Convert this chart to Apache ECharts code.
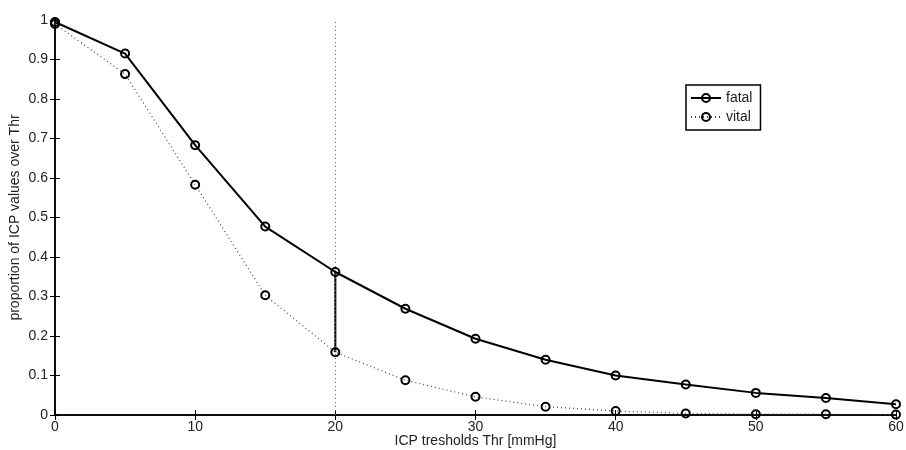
<!DOCTYPE html>
<html>
<head>
<meta charset="utf-8">
<script src="https://cdn.jsdelivr.net/npm/echarts@6/dist/echarts.min.js"></script>
<style>
  html, body { margin: 0; padding: 0; background: #fff; }
  #chart { width: 906px; height: 450px; }
</style>
</head>
<body>
<div id="chart"></div>
<script>
// thresholds (x) and proportions
const thresholds = [0, 5, 10, 15, 20, 25, 30, 35, 40, 45, 50, 55, 60];
const fatal = [0.995, 0.915, 0.683, 0.477, 0.362, 0.269, 0.193, 0.140, 0.100, 0.077, 0.056, 0.043, 0.027];
const vital = [0.990, 0.863, 0.583, 0.303, 0.159, 0.088, 0.046, 0.021, 0.010, 0.004, 0.002, 0.002, 0.001];
const markerX = 20;

function pairs(xs, ys) {
    return xs.map(function (x, i) { return [x, ys[i]]; });
}

let myChart = echarts.init(document.getElementById('chart'));
const font = 'Liberation Sans, Arial, sans-serif';
const idx = thresholds.indexOf(markerX);

// shared axis look (MATLAB style box with inward ticks)
const axisLine = { show: true, lineStyle: { color: '#000', width: 1.5 } };
const axisTick = { show: true, inside: true, length: 5, lineStyle: { color: '#000' } };
const labelStyle = { fontFamily: font, fontSize: 14, color: '#222' };

let option = {
    animation: false,
    backgroundColor: '#fff',
    grid: { left: 55, right: 10, top: 20, bottom: 35, outerBoundsMode: 'none' },
    legend: {
        left: 686, top: 85,
        orient: 'vertical',
        backgroundColor: '#fff',
        borderColor: '#000', borderWidth: 1.5, borderRadius: 0,
        padding: [6, 8, 6, 4],
        itemGap: 5, itemWidth: 30, itemHeight: 10,
        textStyle: labelStyle,
        data: ['fatal', 'vital']
    },
    xAxis: [{
        type: 'value', min: 0, max: 60, interval: 10,
        name: 'ICP tresholds Thr [mmHg]', nameLocation: 'middle', nameGap: 19,
        nameMoveOverlap: false,
        nameTextStyle: labelStyle,
        axisLine: axisLine, axisTick: axisTick,
        axisLabel: Object.assign({ margin: 5 }, labelStyle),
        splitLine: { show: false }
    }, {
        type: 'value', min: 0, max: 60, interval: 10, position: 'top',
        axisLine: axisLine, axisTick: axisTick,
        axisLabel: { show: false }, splitLine: { show: false }
    }],
    yAxis: [{
        type: 'value', min: 0, max: 1, interval: 0.1,
        name: 'proportion of ICP values over Thr', nameLocation: 'middle', nameGap: 33,
        nameMoveOverlap: false,
        nameTextStyle: labelStyle,
        axisLine: axisLine, axisTick: axisTick,
        axisLabel: Object.assign({ margin: 7 }, labelStyle),
        splitLine: { show: false }
    }, {
        type: 'value', min: 0, max: 1, interval: 0.1, position: 'right',
        axisLine: axisLine, axisTick: axisTick,
        axisLabel: { show: false }, splitLine: { show: false }
    }],
    series: [
        {
            name: 'threshold',
            type: 'line',
            data: [],
            markLine: {
                silent: true, symbol: 'none', label: { show: false },
                lineStyle: { color: '#666', type: [1, 3], width: 1 },
                data: [{ xAxis: markerX }]
            }
        },
        {
            name: 'gap',
            type: 'line',
            data: [[markerX, vital[idx]], [markerX, fatal[idx]]],
            showSymbol: false,
            lineStyle: { color: '#000', width: 2 }
        },
        {
            name: 'vital',
            type: 'line',
            data: pairs(thresholds, vital),
            symbol: 'circle', symbolSize: 8,
            itemStyle: { color: 'rgba(255,255,255,0)', borderColor: '#000', borderWidth: 2 },
            lineStyle: { color: '#444', type: [1, 3], width: 1.2 },
            z: 3
        },
        {
            name: 'fatal',
            type: 'line',
            data: pairs(thresholds, fatal),
            symbol: 'circle', symbolSize: 8,
            itemStyle: { color: 'rgba(255,255,255,0)', borderColor: '#000', borderWidth: 2 },
            lineStyle: { color: '#000', width: 2 },
            z: 4
        }
    ]
};

myChart.setOption(option);
</script>
</body>
</html>
